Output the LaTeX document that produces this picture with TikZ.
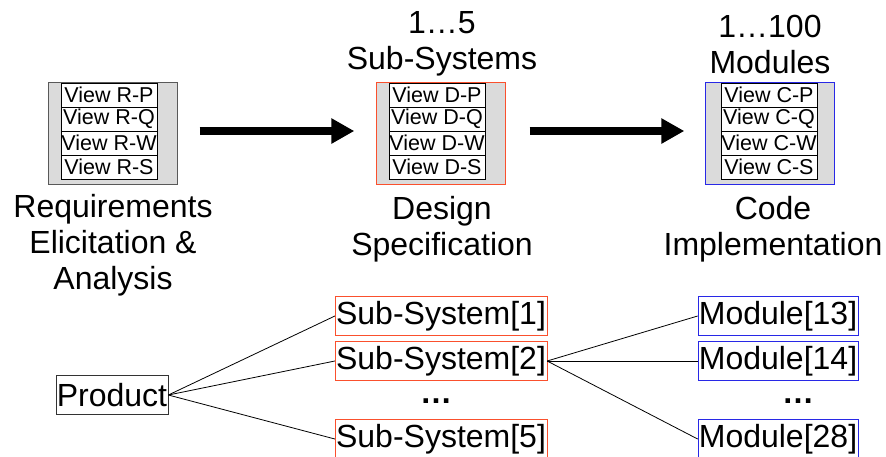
\documentclass[tikz,border=0pt]{standalone}
\usepackage{fontspec}
\setmainfont{Liberation Sans}
\usetikzlibrary{arrows.meta}

\definecolor{subred}{RGB}{250,80,45}
\definecolor{modblue}{RGB}{40,40,230}

\begin{document}
\begin{tikzpicture}[x=1pt,y=-1pt]
\tikzset{font=\fontsize{32}{36}\selectfont}
\tikzset{stage/.style={draw, fill=gray!28, minimum width=129pt, minimum height=102pt, inner sep=0pt}}
\tikzset{view/.style={draw=black, fill=white, minimum width=96pt, minimum height=24pt, inner sep=0pt, font=\fontsize{21.5}{24}\selectfont}}
\tikzset{caption/.style={align=center}}
\tikzset{big arrow/.style={line width=8pt, -{Triangle[length=23pt,width=24pt]}}}
\tikzset{part/.style={draw, inner sep=1pt, minimum height=39pt}}
\tikzset{gap/.style={font=\fontsize{32}{36}\bfseries}}
\tikzset{link/.style={draw, line width=0.8pt}}
\useasboundingbox (0,0) rectangle (886,456);
\node[stage, draw=black!65] (req) at (113,133) {};
\node[stage, draw=subred] (des) at (441,133) {};
\node[stage, draw=modblue] (cod) at (770,133) {};
\foreach \k/\v [count=\i] in {P/P,Q/Q,W/W,S/S} {
  \node[view] (r\k) at (109,71+24*\i) {View R-\v};
  \node[view] (d\k) at (437,71+24*\i) {View D-\v};
  \node[view] (c\k) at (769,71+24*\i) {View C-\v};
}
\node[caption] (reqtext) at (113,245) {Requirements\\Elicitation \&\\Analysis};
\node[caption] (destext) at (442,229) {Design\\Specification};
\node[caption] (codtext) at (773,229) {Code\\Implementation};
\node[caption] (destop) at (442,44) {1\ldots5\\Sub-Systems};
\node[caption] (codtop) at (770,44) {1\ldots100\\Modules};
\draw[big arrow] (req.east) ++(22,-2) coordinate (a1) -- ([xshift=-22pt,yshift=2pt]des.west);
\draw[big arrow] (des.east) ++(24,-2) coordinate (a2) -- ([xshift=-21pt,yshift=2pt]cod.west);
\node[part, draw=black!80] (product) at (112,395) {Product};
\node[part, draw=subred] (sub1) at (441,316) {Sub-System[1]};
\node[part, draw=subred] (sub2) at (441,361) {Sub-System[2]};
\node[gap] (subdots) at (436,401) {\ldots};
\node[part, draw=subred] (sub5) at (441,439) {Sub-System[5]};
\node[part, draw=modblue] (mod13) at (778,316) {Module[13]};
\node[part, draw=modblue] (mod14) at (778,361) {Module[14]};
\node[gap] (moddots) at (798,401) {\ldots};
\node[part, draw=modblue] (mod28) at (778,439) {Module[28]};
\draw[link] (product.east) -- (sub1.west);
\draw[link] (product.east) -- (sub2.west);
\draw[link] (product.east) -- (sub5.west);
\draw[link] (sub2.east) -- (mod13.west);
\draw[link] (sub2.east) -- (mod14.west);
\draw[link] (sub2.east) -- (mod28.west);
\end{tikzpicture}
\end{document}
